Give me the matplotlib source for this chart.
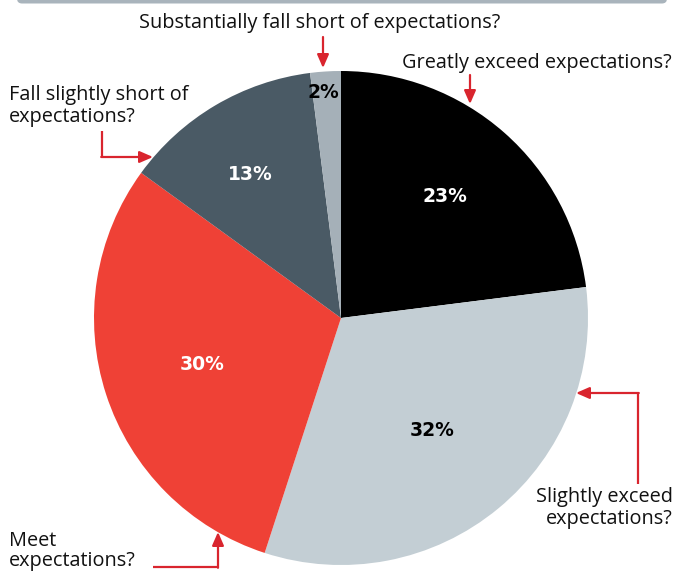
import matplotlib.pyplot as plt
from matplotlib.patches import FancyBboxPatch

# survey answers, clockwise from 12 o'clock
answers = ["Greatly exceed expectations?", "Slightly exceed\nexpectations?",
           "Meet\nexpectations?", "Fall slightly short of\nexpectations?",
           "Substantially fall short of expectations?"]
shares = [23, 32, 30, 13, 2]
colors = ["#000000", "#c3ced4", "#ef4136", "#4a5a65", "#a5b0b8"]
pct_colors = ["white", "black", "white", "white", "black"]

W, H = 678, 573
red = "#d9252e"

fig = plt.figure(figsize=(W / 100, H / 100), dpi=100)
ax = fig.add_axes([0, 0, 1, 1])

# pixel coords (from top) -> data coords
def P(x, y):
    return (x, H - y)

cx, cy = P(341, 318)
wedges, _ = ax.pie(shares, colors=colors, startangle=90, counterclock=False,
                   center=(cx, cy), radius=247, frame=True,
                   wedgeprops=dict(linewidth=0))
ax.set_xlim(0, W)
ax.set_ylim(0, H)
ax.set_aspect("equal")
ax.set_axis_off()

# grey frame edge at the top
ax.add_patch(FancyBboxPatch((17, H - 3.5), 650, 10, boxstyle="round,pad=0,rounding_size=5",
                            fc="#a9b4bc", ec="none"))

pct_pos = [(445, 196), (432, 430), (202, 364), (250, 174), (323, 92)]
for s, (x, y), c in zip(shares, pct_pos, pct_colors):
    ax.text(*P(x, y), f"{s}%", color=c, fontsize=13.5, fontweight="heavy",
            ha="center", va="center", family="DejaVu Sans")

lab = dict(fontsize=14.3, family="Open Sans", color="#111111", linespacing=1.15)
ax.text(*P(320, 23), answers[4], ha="center", va="center", **lab)
ax.text(*P(402, 63), answers[0], ha="left", va="center", **lab)
ax.text(*P(9, 106), answers[3], ha="left", va="center", **lab)
ax.text(*P(673, 508), answers[1], ha="right", va="center", multialignment="right", **lab)
ax.text(*P(9, 551), answers[2], ha="left", va="center", linespacing=1.05,
        **{k: v for k, v in lab.items() if k != "linespacing"})

arr = dict(arrowstyle="-|>,head_length=0.8,head_width=0.35", color=red, lw=1.6,
           shrinkA=0, shrinkB=0)
line = dict(color=red, lw=1.6, solid_capstyle="butt")

# substantially fall short
ax.annotate("", xy=P(323, 68), xytext=P(323, 37), arrowprops=arr)
# greatly exceed
ax.annotate("", xy=P(470, 104), xytext=P(470, 75), arrowprops=arr)
# fall slightly short
ax.plot(*zip(P(102, 131), P(102, 157)), **line)
ax.annotate("", xy=P(153, 157), xytext=P(101.2, 157), arrowprops=arr)
# slightly exceed
ax.plot(*zip(P(638, 484), P(638, 393)), **line)
ax.annotate("", xy=P(576, 393), xytext=P(638.8, 393), arrowprops=arr)
# meet
ax.plot(*zip(P(153, 567), P(218, 567)), **line)
ax.annotate("", xy=P(218, 532), xytext=P(218, 567.8), arrowprops=arr)

fig.savefig("out.png", dpi=100)
